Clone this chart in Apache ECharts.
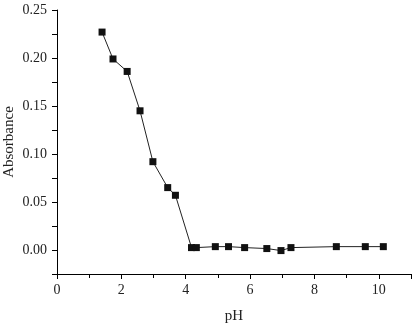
<!DOCTYPE html>
<html>
<head>
<meta charset="utf-8">
<script src="https://cdn.jsdelivr.net/npm/echarts@6/dist/echarts.min.js"></script>
<style>
    html, body { margin: 0; padding: 0; background: #fff; }
    #chart { width: 419px; height: 324px; }
</style>
</head>
<body>
<div id="chart"></div>
<script>
    // pH 值
    var phValues = [1.40, 1.74, 2.18, 2.58, 2.98, 3.44, 3.68, 4.18, 4.33, 4.92, 5.33, 5.83, 6.52, 6.96, 7.27, 8.68, 9.58, 10.14];
    // 吸光度
    var absorbance = [0.227, 0.199, 0.186, 0.145, 0.092, 0.065, 0.057, 0.0025, 0.0025, 0.0035, 0.0035, 0.0025, 0.0015, -0.0006, 0.0025, 0.0035, 0.0035, 0.0035];

    var points = [];
    for (var i = 0; i < phValues.length; i++) {
        points.push([phValues[i], absorbance[i]]);
    }

    var font = 'Liberation Serif';
    var chart = echarts.init(document.getElementById('chart'));
    var option = {
        animation: false,
        grid: {
            left: 57,
            right: 8,
            top: 10,
            bottom: 50,
            containLabel: false,
            outerBoundsMode: 'none'
        },
        xAxis: {
            type: 'value',
            min: 0,
            max: 11,
            interval: 2,
            name: 'pH',
            nameLocation: 'middle',
            nameGap: 35,
            nameMoveOverlap: false,
            nameTextStyle: { fontFamily: font, fontSize: 15, color: '#222' },
            axisLine: { onZero: false, lineStyle: { color: '#000', width: 1 } },
            axisTick: { inside: false, length: 5, lineStyle: { color: '#000' } },
            minorTick: { show: true, splitNumber: 2, length: 4, lineStyle: { color: '#000' } },
            axisLabel: {
                fontFamily: font, fontSize: 14, color: '#222', margin: 9,
                showMaxLabel: false
            },
            splitLine: { show: false }
        },
        yAxis: {
            type: 'value',
            min: -0.025,
            max: 0.25,
            interval: 0.025,
            name: 'Absorbance',
            nameLocation: 'middle',
            nameGap: 40,
            nameMoveOverlap: false,
            nameTextStyle: { fontFamily: font, fontSize: 15, color: '#222' },
            axisLine: { show: true, onZero: false, lineStyle: { color: '#000', width: 1 } },
            axisTick: { show: true, length: 5, lineStyle: { color: '#000' } },
            axisLabel: {
                fontFamily: font, fontSize: 14, color: '#222', margin: 10,
                formatter: function (v) {
                    // 只显示 0.05 的倍数
                    var k = Math.round(v / 0.025);
                    if (k < 0 || k % 2 !== 0) return '';
                    return v.toFixed(2);
                }
            },
            splitLine: { show: false }
        },
        series: [{
            type: 'line',
            data: points,
            symbol: 'rect',
            symbolSize: 7,
            itemStyle: { color: '#111' },
            lineStyle: { color: '#222', width: 1 }
        }]
    };
    chart.setOption(option);
</script>
</body>
</html>
